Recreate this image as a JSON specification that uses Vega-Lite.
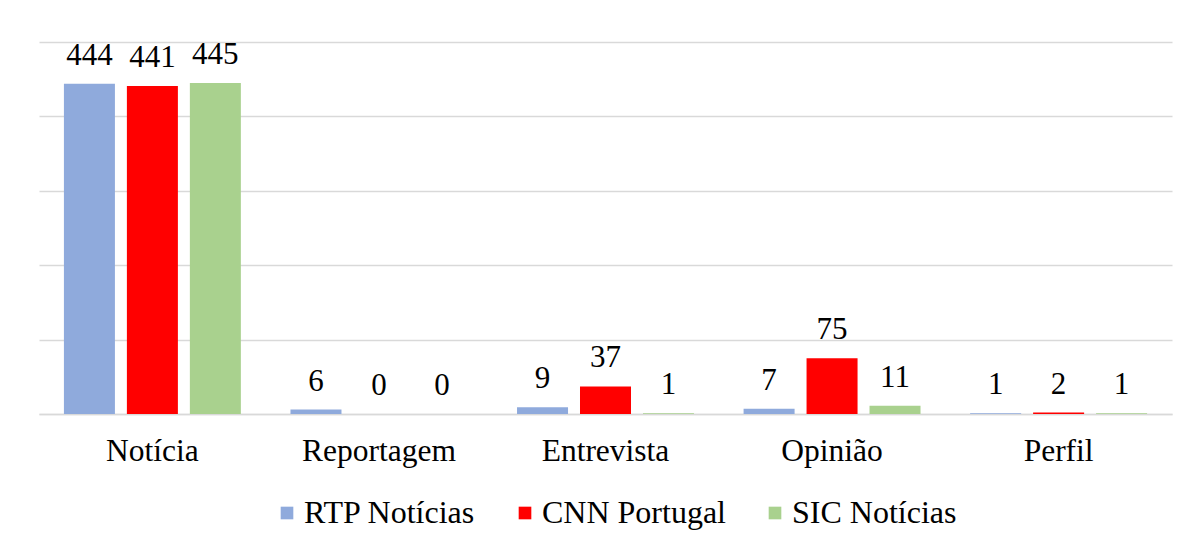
{
  "$schema": "https://vega.github.io/schema/vega-lite/v6.json",
  "width": 1133,
  "height": 372,
  "autosize": {"type": "none"},
  "padding": {"left": 39, "top": 42, "right": 26, "bottom": 131},
  "background": "white",
  "config": {
    "view": {"stroke": null},
    "font": "Liberation Serif",
    "axis": {"labelFont": "Liberation Serif"},
    "legend": {"labelFont": "Liberation Serif"}
  },
  "data": {
    "values": [
      {"categoria": "Notícia", "canal": "RTP Notícias", "valor": 444},
      {"categoria": "Notícia", "canal": "CNN Portugal", "valor": 441},
      {"categoria": "Notícia", "canal": "SIC Notícias", "valor": 445},
      {"categoria": "Reportagem", "canal": "RTP Notícias", "valor": 6},
      {"categoria": "Reportagem", "canal": "CNN Portugal", "valor": 0},
      {"categoria": "Reportagem", "canal": "SIC Notícias", "valor": 0},
      {"categoria": "Entrevista", "canal": "RTP Notícias", "valor": 9},
      {"categoria": "Entrevista", "canal": "CNN Portugal", "valor": 37},
      {"categoria": "Entrevista", "canal": "SIC Notícias", "valor": 1},
      {"categoria": "Opinião", "canal": "RTP Notícias", "valor": 7},
      {"categoria": "Opinião", "canal": "CNN Portugal", "valor": 75},
      {"categoria": "Opinião", "canal": "SIC Notícias", "valor": 11},
      {"categoria": "Perfil", "canal": "RTP Notícias", "valor": 1},
      {"categoria": "Perfil", "canal": "CNN Portugal", "valor": 2},
      {"categoria": "Perfil", "canal": "SIC Notícias", "valor": 1}
    ]
  },
  "encoding": {
    "x": {
      "field": "categoria", "type": "nominal",
      "sort": ["Notícia", "Reportagem", "Entrevista", "Opinião", "Perfil"],
      "scale": {"paddingInner": 0.219, "paddingOuter": 0.11},
      "axis": {
        "title": null, "labelAngle": 0, "labelFontSize": 31.5, "labelColor": "#000000",
        "labelPadding": 21, "ticks": false, "domainColor": "#d9d9d9", "domainWidth": 1.5
      }
    },
    "xOffset": {
      "field": "canal", "type": "nominal",
      "sort": ["RTP Notícias", "CNN Portugal", "SIC Notícias"],
      "scale": {"paddingInner": 0.19, "paddingOuter": 0}
    },
    "y": {
      "field": "valor", "type": "quantitative",
      "scale": {"domain": [0, 500], "nice": false},
      "axis": {
        "title": null, "labels": false, "ticks": false, "domain": false,
        "values": [0, 100, 200, 300, 400, 500],
        "gridColor": "#d9d9d9", "gridWidth": 1.5
      }
    }
  },
  "layer": [
    {
      "mark": {"type": "bar"},
      "encoding": {
        "color": {
          "field": "canal", "type": "nominal",
          "sort": ["RTP Notícias", "CNN Portugal", "SIC Notícias"],
          "scale": {
            "domain": ["RTP Notícias", "CNN Portugal", "SIC Notícias"],
            "range": ["#8faadc", "#ff0000", "#a9d18e"]
          },
          "legend": {
            "title": null, "orient": "none", "direction": "horizontal",
            "legendX": 232, "legendY": 455,
            "symbolType": "square", "symbolSize": 160, "symbolStrokeWidth": 0,
            "labelFontSize": 32, "labelColor": "#000000", "labelOffset": 1,
            "labelLimit": 400, "columnPadding": 33
          }
        }
      }
    },
    {
      "mark": {"type": "text", "baseline": "alphabetic", "dy": -19, "fontSize": 31, "color": "#000000", "font": "Liberation Serif"},
      "encoding": {
        "text": {"field": "valor", "type": "quantitative"}
      }
    }
  ]
}
